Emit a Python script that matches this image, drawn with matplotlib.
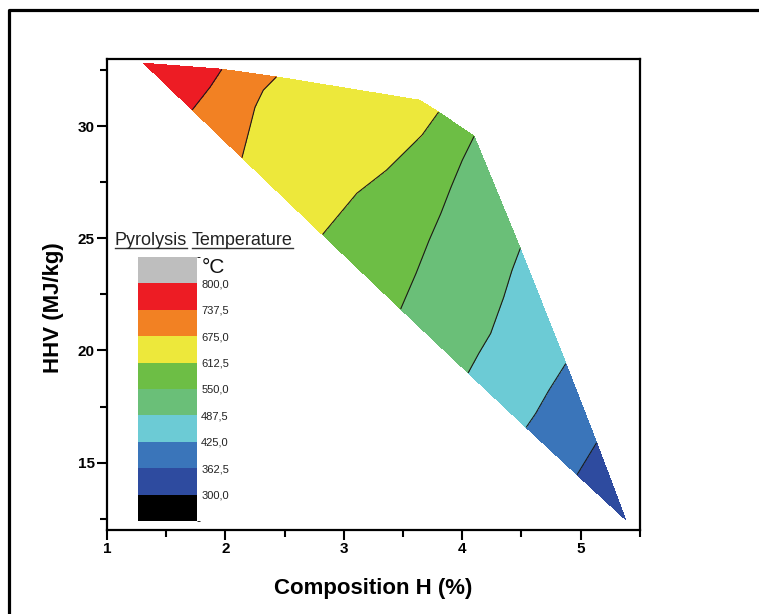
import matplotlib
matplotlib.use("Agg")
import matplotlib.pyplot as plt
import matplotlib.tri as mtri
from matplotlib.colors import ListedColormap, BoundaryNorm
from matplotlib.colorbar import ColorbarBase
from matplotlib.lines import Line2D
from matplotlib.ticker import MultipleLocator

plt.rcParams['font.family'] = ['Liberation Sans', 'DejaVu Sans']

# temperature field: end points, then points along each isotherm
h_pct = [1.31, 5.38,
         1.97, 1.87, 1.72,
         2.43, 2.32, 2.25, 2.20, 2.14,
         3.64,
         3.80, 3.66, 3.36, 3.11, 2.82,
         4.10, 4.00, 3.905, 3.82, 3.72, 3.61, 3.48,
         4.49, 4.42, 4.35, 4.24, 4.14, 4.05,
         4.875, 4.73, 4.62, 4.54,
         5.135, 4.97]
hhv = [32.81, 12.46,
       32.54, 31.74, 30.73,
       32.20, 31.61, 30.85, 29.82, 28.60,
       31.16,
       30.63, 29.60, 28.04, 27.01, 25.17,
       29.55, 28.48, 27.28, 26.12, 24.91, 23.44, 21.85,
       24.55, 23.57, 22.37, 20.76, 19.87, 19.00,
       19.42, 18.21, 17.19, 16.57,
       15.89, 14.46]
temp = [790, 310,
        737.5, 737.5, 737.5,
        675, 675, 675, 675, 675,
        625,
        612.5, 612.5, 612.5, 612.5, 612.5,
        550, 550, 550, 550, 550, 550, 550,
        487.5, 487.5, 487.5, 487.5, 487.5, 487.5,
        425, 425, 425, 425,
        362.5, 362.5]

levels = [300.0, 362.5, 425.0, 487.5, 550.0, 612.5, 675.0, 737.5, 800.0]
band_colors = ['#2e4b9f', '#3a75ba', '#6ccbd5', '#6abf78',
               '#6dbe45', '#ede83b', '#f28123', '#ed1c24']
under_color = '#000000'
over_color = '#bebebe'

fig = plt.figure(figsize=(7.59, 6.14), dpi=100)
ax = fig.add_axes([0.141, 0.137, 0.702, 0.767])

tri = mtri.Triangulation(h_pct, hhv)
ax.tricontourf(tri, temp, levels=levels, colors=band_colors)
ax.tricontour(tri, temp, levels=levels[1:-1], colors='#1a1a1a', linewidths=0.8)

ax.set_xlim(1, 5.5)
ax.set_ylim(12, 33)
ax.xaxis.set_major_locator(MultipleLocator(1))
ax.xaxis.set_minor_locator(MultipleLocator(0.5))
ax.yaxis.set_major_locator(MultipleLocator(5))
ax.yaxis.set_minor_locator(MultipleLocator(2.5))
ax.tick_params(which='major', length=7, width=1.5, labelsize=11, pad=2)
ax.tick_params(which='minor', length=5, width=1.5)
for lab in ax.get_xticklabels() + ax.get_yticklabels():
    lab.set_fontweight('bold')
for sp in ax.spines.values():
    sp.set_linewidth(1.6)

ax.set_xlabel('Composition H (%)', fontsize=16, fontweight='bold')
ax.set_ylabel('HHV (MJ/kg)', fontsize=16, fontweight='bold')
ax.xaxis.set_label_coords(0.5, -0.102)
ax.yaxis.set_label_coords(-0.080, 0.473)

# temperature key
bounds = [237.5] + levels + [862.5]
key_cmap = ListedColormap([under_color] + band_colors + [over_color])
cax = fig.add_axes([0.1818, 0.1515, 0.0777, 0.43])
cb = ColorbarBase(cax, cmap=key_cmap, norm=BoundaryNorm(bounds, key_cmap.N),
                  boundaries=bounds, ticks=levels, orientation='vertical')
cb.outline.set_visible(False)
cb.ax.set_yticklabels([f'{v:.1f}'.replace('.', ',') for v in levels])
cb.ax.tick_params(length=0, pad=3, labelsize=8, labelcolor='#222222')
fig.text(0.266, 0.565, '°C', fontsize=15, va='center', ha='left', color='#111111')

t1 = fig.text(0.1515, 0.6075, 'Pyrolysis', fontsize=13, va='center', ha='left', color='#222222')
t2 = fig.text(0.253, 0.6075, 'Temperature', fontsize=13, va='center', ha='left', color='#222222')

# page border
fig.add_artist(Line2D([0.0112, 0.0112, 1.0], [0.0, 0.983, 0.983],
                      color='black', lw=2.3, transform=fig.transFigure))

fig.canvas.draw()
renderer = fig.canvas.get_renderer()
inv = fig.transFigure.inverted()
for word in (t1, t2):
    bb = word.get_window_extent(renderer)
    (x0, y0), (x1, _) = inv.transform([[bb.x0, bb.y0 + 1], [bb.x1, bb.y0 + 1]])
    fig.add_artist(Line2D([x0, x1], [y0, y0], color='#333333', lw=1.0,
                          transform=fig.transFigure))

fig.savefig('out.png', dpi=100)
